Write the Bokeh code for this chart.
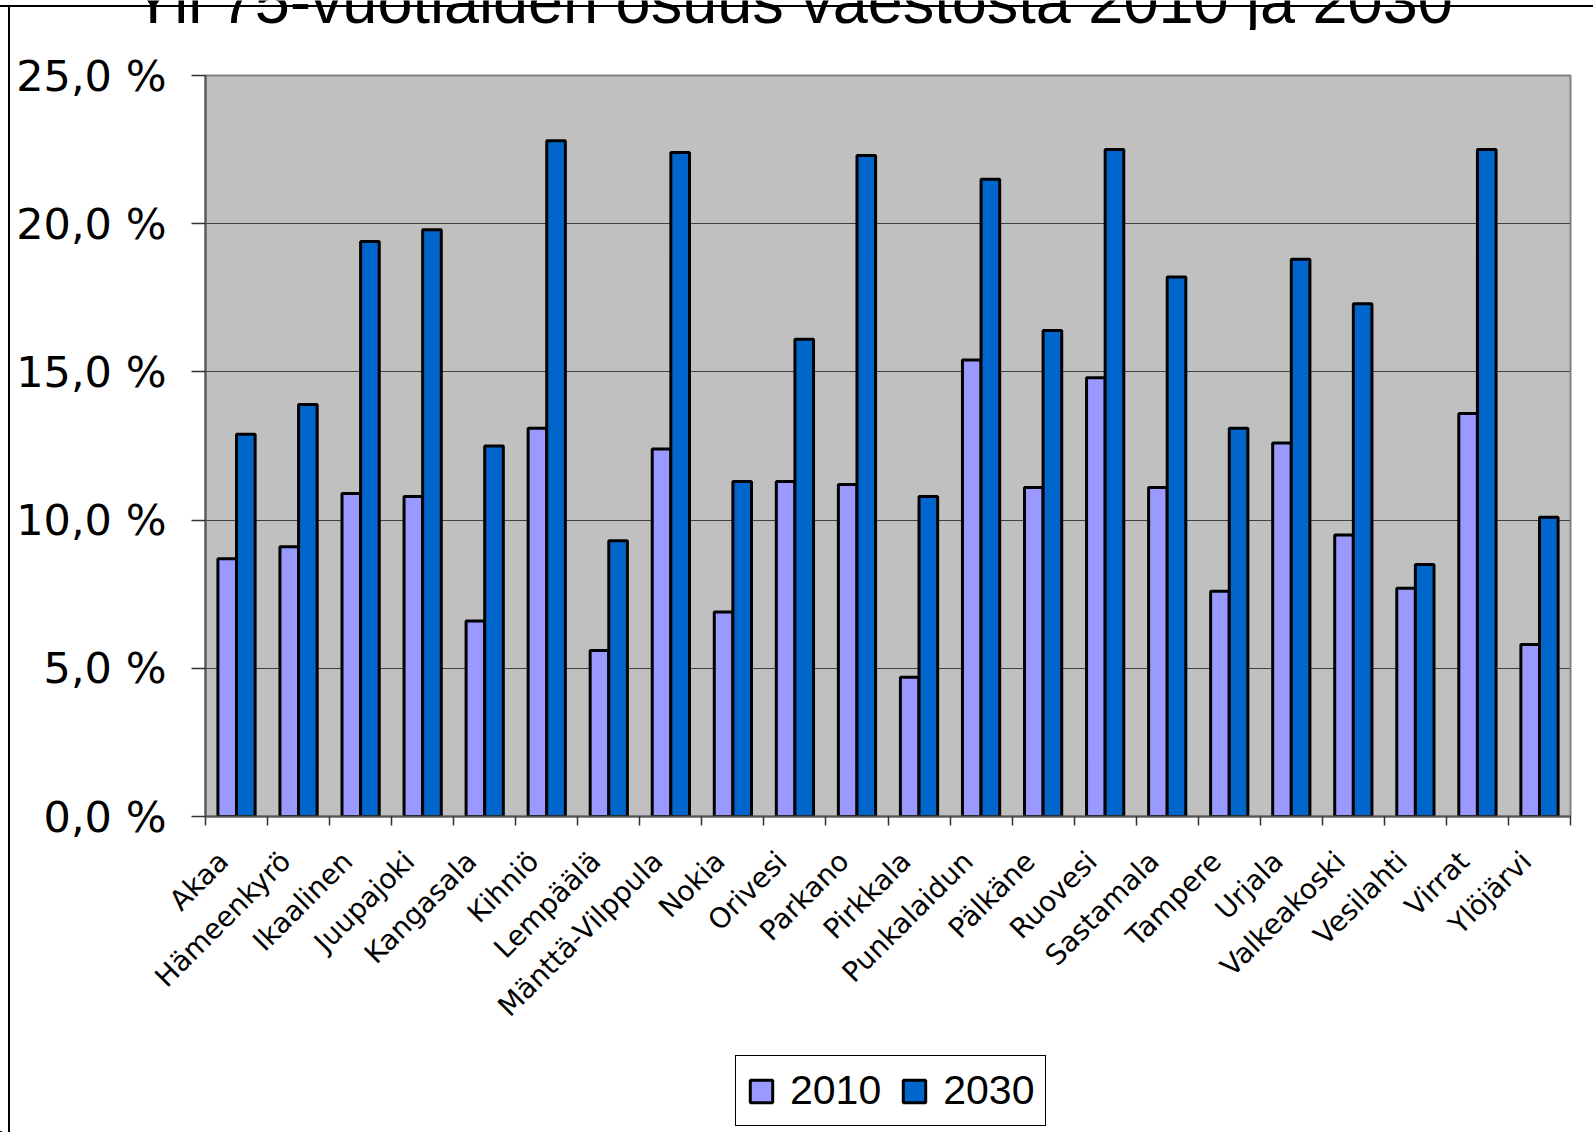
import numpy as np
from bokeh.plotting import figure
from bokeh.layouts import column
from bokeh.models import ColumnDataSource, FixedTicker, Legend, LegendItem, Range1d
from bokeh.transform import dodge
from bokeh.core.properties import value
from bokeh.embed import file_html
from bokeh.resources import INLINE

# ---------------- data ----------------
municipalities = ["Akaa", "Hämeenkyrö", "Ikaalinen", "Juupajoki", "Kangasala", "Kihniö",
                  "Lempäälä", "Mänttä-Vilppula", "Nokia", "Orivesi", "Parkano", "Pirkkala",
                  "Punkalaidun", "Pälkäne", "Ruovesi", "Sastamala", "Tampere", "Urjala",
                  "Valkeakoski", "Vesilahti", "Virrat", "Ylöjärvi"]
share_2010 = [8.7, 9.1, 10.9, 10.8, 6.6, 13.1, 5.6, 12.4, 6.9, 11.3, 11.2,
              4.7, 15.4, 11.1, 14.8, 11.1, 7.6, 12.6, 9.5, 7.7, 13.6, 5.8]
share_2030 = [12.9, 13.9, 19.4, 19.8, 12.5, 22.8, 9.3, 22.4, 11.3, 16.1, 22.3,
              10.8, 21.5, 16.4, 22.5, 18.2, 13.1, 18.8, 17.3, 8.5, 22.5, 10.1]
series_years = ["2010", "2030"]
series_colors = ["#9999FF", "#0066CC"]
y_ticks = [0, 5, 10, 15, 20, 25]
y_tick_labels = ["0,0 %", "5,0 %", "10,0 %", "15,0 %", "20,0 %", "25,0 %"]
title_text = "Yli 75-vuotiaiden osuus väestöstä 2010 ja 2030"

# ---------------- layout ----------------
W = 1593
TITLE_H = 30
MAIN_H = 1025
LEG_H = 1132 - TITLE_H - MAIN_H
B_LEFT, B_RIGHT, B_TOP = 205, 23, 45
B_BOTTOM = MAIN_H - (816 - TITLE_H)

n = len(municipalities)
centers = np.arange(n) + 0.5
label_pos = [float(c - 0.21) for c in centers]
boundaries = list(range(n + 1))

source = ColumnDataSource(dict(x=centers, municipality=municipalities,
                               v2010=share_2010, v2030=share_2030))


def bare_figure(height, x_range, y_range):
    f = figure(width=W, height=height, output_backend="svg", toolbar_location=None,
               title=None, x_range=x_range, y_range=y_range,
               x_axis_type=None, y_axis_type=None,
               min_border_left=0, min_border_right=0, min_border_top=0, min_border_bottom=0,
               outline_line_color=None, background_fill_color=None, border_fill_color=None)
    f.frame_align = False
    f.grid.visible = False
    return f


# title strip (its top is cut off by the page edge, as in the original)
pt = bare_figure(TITLE_H, Range1d(0, 1), Range1d(0, 1))
pt.text(x=[792 / W], y=[0.5], y_offset=-15, text=[title_text], text_align="center",
        text_baseline="alphabetic", text_font=value("Liberation Sans"),
        text_font_size="63px", text_color="black")

# main chart
p = figure(width=W, height=MAIN_H, output_backend="svg", toolbar_location=None,
           x_range=Range1d(0, n), y_range=Range1d(0, 25),
           min_border_left=B_LEFT, min_border_right=B_RIGHT,
           min_border_top=B_TOP, min_border_bottom=B_BOTTOM,
           background_fill_color="#C0C0C0", border_fill_color=None)
p.frame_align = False
p.outline_line_color = "#808080"
p.outline_line_width = 2

p.vbar(x=dodge("x", -0.15), top="v2010", width=0.3, source=source,
       fill_color=series_colors[0], line_color="black", line_width=3)
p.vbar(x=dodge("x", 0.15), top="v2030", width=0.3, source=source,
       fill_color=series_colors[1], line_color="black", line_width=3)

# x axis
xax = p.xaxis[0]
xax.ticker = FixedTicker(ticks=label_pos, minor_ticks=boundaries)
xax.major_label_overrides = {lp: name for lp, name in zip(label_pos, municipalities)}
xax.major_label_orientation = np.pi / 4
xax.major_tick_line_color = None
xax.major_tick_out = 0
xax.major_tick_in = 0
xax.minor_tick_out = 9
xax.minor_tick_in = 0
xax.minor_tick_line_color = "#333333"
xax.minor_tick_line_width = 1.5
xax.axis_line_color = "#555555"
xax.axis_line_width = 2
xax.major_label_standoff = 31
xax.major_label_text_font = "DejaVu Sans"
xax.major_label_text_font_size = "28px"
xax.major_label_text_color = "black"

# y axis
yax = p.yaxis[0]
yax.ticker = FixedTicker(ticks=y_ticks)
yax.major_label_overrides = dict(zip(y_ticks, y_tick_labels))
yax.major_tick_out = 14
yax.major_tick_in = 0
yax.major_tick_line_color = "#333333"
yax.major_tick_line_width = 1.5
yax.minor_tick_line_color = None
yax.axis_line_color = "#555555"
yax.axis_line_width = 2
yax.major_label_standoff = 25
yax.major_label_text_font = "DejaVu Sans"
yax.major_label_text_font_size = "43px"
yax.major_label_text_color = "black"

p.xgrid.visible = False
p.ygrid.grid_line_color = "#404040"
p.ygrid.grid_line_width = 1

# legend strip: renderers share the data but lie outside this strip's visible ranges
pl = bare_figure(LEG_H, Range1d(100, 101), Range1d(100, 101))
lr1 = pl.vbar(x=dodge("x", -0.15), top="v2010", width=0.3, source=source,
              fill_color=series_colors[0], line_color="black", line_width=3)
lr2 = pl.vbar(x=dodge("x", 0.15), top="v2030", width=0.3, source=source,
              fill_color=series_colors[1], line_color="black", line_width=3)
legend = Legend(items=[LegendItem(label=series_years[0], renderers=[lr1]),
                       LegendItem(label=series_years[1], renderers=[lr2])],
                orientation="horizontal", location=(735, 6),
                padding=11, margin=0, spacing=19, label_standoff=15,
                glyph_width=28, glyph_height=28,
                label_text_font="Liberation Sans", label_text_font_size="41px",
                label_text_color="black",
                border_line_color="black", border_line_width=1.5, border_line_alpha=1.0,
                background_fill_color="white", background_fill_alpha=1.0)
pl.add_layout(legend, "center")

layout = column(pt, p, pl, spacing=0)
layout.styles = {
    "background-color": "white",
    "background-image": "linear-gradient(black, black), linear-gradient(black, black)",
    "background-size": "2px 100%, 100% 2px",
    "background-position": "8px 5px, 0px 5px",
    "background-repeat": "no-repeat",
}

open("out.html", "w").write(file_html(layout, INLINE))
